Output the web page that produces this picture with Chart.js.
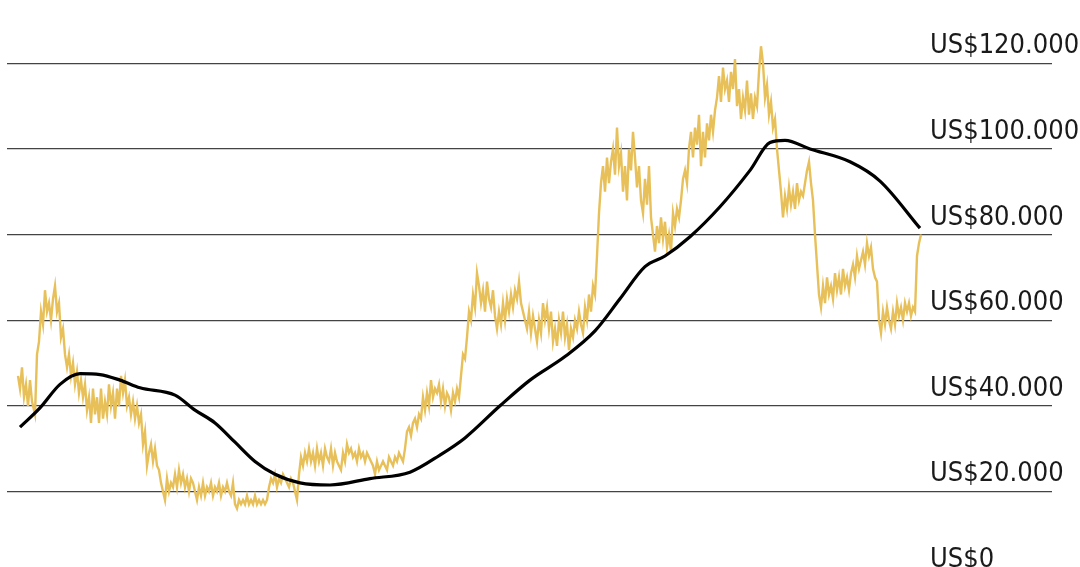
<!DOCTYPE html>
<html><head><meta charset="utf-8">
<script src="https://cdn.jsdelivr.net/npm/chart.js@4"></script>
<style>html,body{margin:0;padding:0;background:#fff}#w{width:1080px;height:567px}</style>
</head><body><div id="w"><canvas id="c"></canvas></div>
<script>
// time index (horizontal position units) and price in thousand US$
const priceT = [18,20,22,24,26,28,30,32,35,37,39,41,43,45,47,49,51,53,55,57,59,61,63,65,67,69,71,73,75,77,79,81,83,85,87,89,91,93,95,97,99,101,103,105,107,109,111,113,115,117,119,121,123,125,127,129,131,133,135,137,139,141,143,145,147,149,151,153,155,157,159,161,163,165,167,169,171,173,175,177,179,181,183,185,187,189,191,193,195,197,199,201,203,205,207,209,211,213,215,217,219,221,223,225,227,229,231,233,235,237,239,241,243,245,247,249,251,253,255,257,259,261,263,265,267,269,271,273,275,277,279,281,283,285,287,289,291,293,295,297,299,301,303,305,307,309,311,313,315,317,319,321,323,325,327,329,331,333,335,337,339,341,343,345,347,349,351,353,355,357,359,361,363,365,367,369,371,373,375,377,379,381,383,385,387,389,391,393,395,397,399,401,403,405,407,409,411,413,415,417,419,421,423,425,427,429,431,433,435,437,439,441,443,445,447,449,451,453,455,457,459,461,463,465,467,469,471,473,475,477,479,481,483,485,487,489,491,493,495,497,499,501,503,505,507,509,511,513,515,517,519,521,523,525,527,529,531,533,535,537,539,541,543,545,547,549,551,553,555,557,559,561,563,565,567,569,571,573,575,577,579,581,583,585,587,589,591,593,595,597,599,601,603,605,607,609,611,613,615,617,619,621,623,625,627,629,631,633,635,637,639,641,643,645,647,649,651,653,655,657,659,661,663,665,667,669,671,673,675,677,679,681,683,685,687,689,691,693,695,697,699,701,703,705,707,709,711,713,715,717,719,721,723,725,727,729,731,733,735,737,739,741,743,745,747,749,751,753,755,757,759,761,763,765,767,769,771,773,775,777,779,781,783,785,787,789,791,793,795,797,799,801,803,805,807,809,811,813,815,817,819,821,823,825,827,829,831,833,835,837,839,841,843,845,847,849,851,853,855,857,859,861,863,865,867,869,871,873,875,877,879,881,883,885,887,889,891,893,895,897,899,901,903,905,907,909,911,913,915,917,919,921];
const price = [47,44,49,42,45,40,46,41,38,52,55,62,59,67,62,64,60,65,68,62,64,56,58,52,49,52,47,50,45,48,43,46,42,45,39,42,36,44,38,42,36,44,37,41,38,45,40,43,37,44,40,47,43,46,40,42,38,41,37,40,36,38,31,34,26,29,31,27,30,26,25,22,20,18,23,20,22,21,24,21,25,22,24,21,23,20,23,22,20,18,21,19,22,19,21,20,22,19,21,20,22,19,21,20,22,20,19,22,17,16,18,17,18,17,19,17,18,17,19,17,18,17,18,17,18,21,23,22,24,21,23,22,24,23,22,21,23,22,20,18,24,28,26,29,27,30,27,29,26,30,27,29,26,30,28,27,30,26,29,27,26,25,29,27,31,29,30,28,29,27,30,28,29,27,29,28,27,26,24,27,25,26,27,26,25,28,27,26,28,27,29,28,27,30,34,35,33,36,37,35,38,37,42,39,43,40,46,42,44,43,45,41,44,40,43,42,39,43,41,44,42,47,52,51,56,62,60,66,63,71,68,64,67,62,69,65,63,67,61,58,62,59,64,60,65,62,66,63,67,65,69,64,62,60,58,62,57,61,58,55,60,57,64,60,63,58,62,55,58,54,60,57,62,56,59,53,58,56,60,58,62,59,57,63,60,66,62,68,66,75,85,92,96,90,98,92,97,100,94,105,96,99,90,96,88,100,95,104,98,91,96,88,85,93,87,96,84,80,76,82,78,84,79,83,77,80,76,85,82,86,84,88,93,95,92,100,104,98,105,101,108,96,104,98,106,102,108,104,109,112,117,111,119,114,116,111,118,114,121,110,114,107,112,109,116,108,113,107,112,110,118,124,120,112,115,108,111,105,107,100,95,90,84,89,86,91,87,90,86,92,88,90,89,92,95,97,92,88,80,73,66,63,68,64,70,66,68,65,71,67,70,66,72,68,70,67,71,73,70,75,72,74,76,73,78,75,77,72,70,69,60,57,62,59,63,60,58,62,59,64,61,63,60,64,62,64,61,63,62,75,78,80];
const maT = [20,40,60,80,100,120,140,175,195,215,235,255,275,300,330,370,410,440,465,500,530,565,595,620,645,665,690,720,750,770,785,810,850,880,920];
const ma = [35,39.5,45,47.5,47.3,46,44.2,42.5,39,36,31.5,27,24,22,21.5,23,24.5,28.5,32.5,40,46,51.5,57.5,65,72.5,75,79.5,86.5,95,101.5,102,100,97,92.5,81.5];
const tickValues = [0,20,40,60,80,100,120];
const tickLabels = ['US$0','US$20.000','US$40.000','US$60.000','US$80.000','US$100.000','US$120.000'];

const labelPlugin = {
  id:'lbl',
  afterDraw(chart){
    const y = chart.scales.y, ctx = chart.ctx;
    ctx.save();
    ctx.font = '27px "Liberation Sans Narrow", "DejaVu Sans Condensed", sans-serif';
    ctx.fillStyle = '#1a1a1a';
    ctx.textBaseline = 'alphabetic';
    tickValues.forEach((v,i)=>{
      ctx.fillText(tickLabels[i], 930, y.getPixelForValue(v) - 10);
    });
    ctx.restore();
  }
};

new Chart(document.getElementById('c'), {
  type:'line',
  data:{datasets:[
    {data:maT.map((t,i)=>({x:t,y:ma[i]})), borderColor:'#000', borderWidth:3.2, pointRadius:0, cubicInterpolationMode:'monotone', order:0},
    {data:priceT.map((t,i)=>({x:t,y:price[i]})), borderColor:'#E8C05A', borderWidth:2.4, pointRadius:0, tension:0, order:1}
  ]},
  options:{
    responsive:true, maintainAspectRatio:false, animation:false,
    layout:{padding:{left:7,right:28,top:0,bottom:0}},
    plugins:{legend:{display:false},tooltip:{enabled:false}},
    scales:{
      x:{type:'linear',min:7,max:1052,display:false},
      y:{min:2.34,max:134.8,border:{display:false},
        afterBuildTicks(s){s.ticks=[20,40,60,80,100,120].map(v=>({value:v}));},
        ticks:{display:false},
        grid:{color:'#444',lineWidth:1.2,drawTicks:false}}
    }
  },
  plugins:[labelPlugin]
});
</script></body></html>
